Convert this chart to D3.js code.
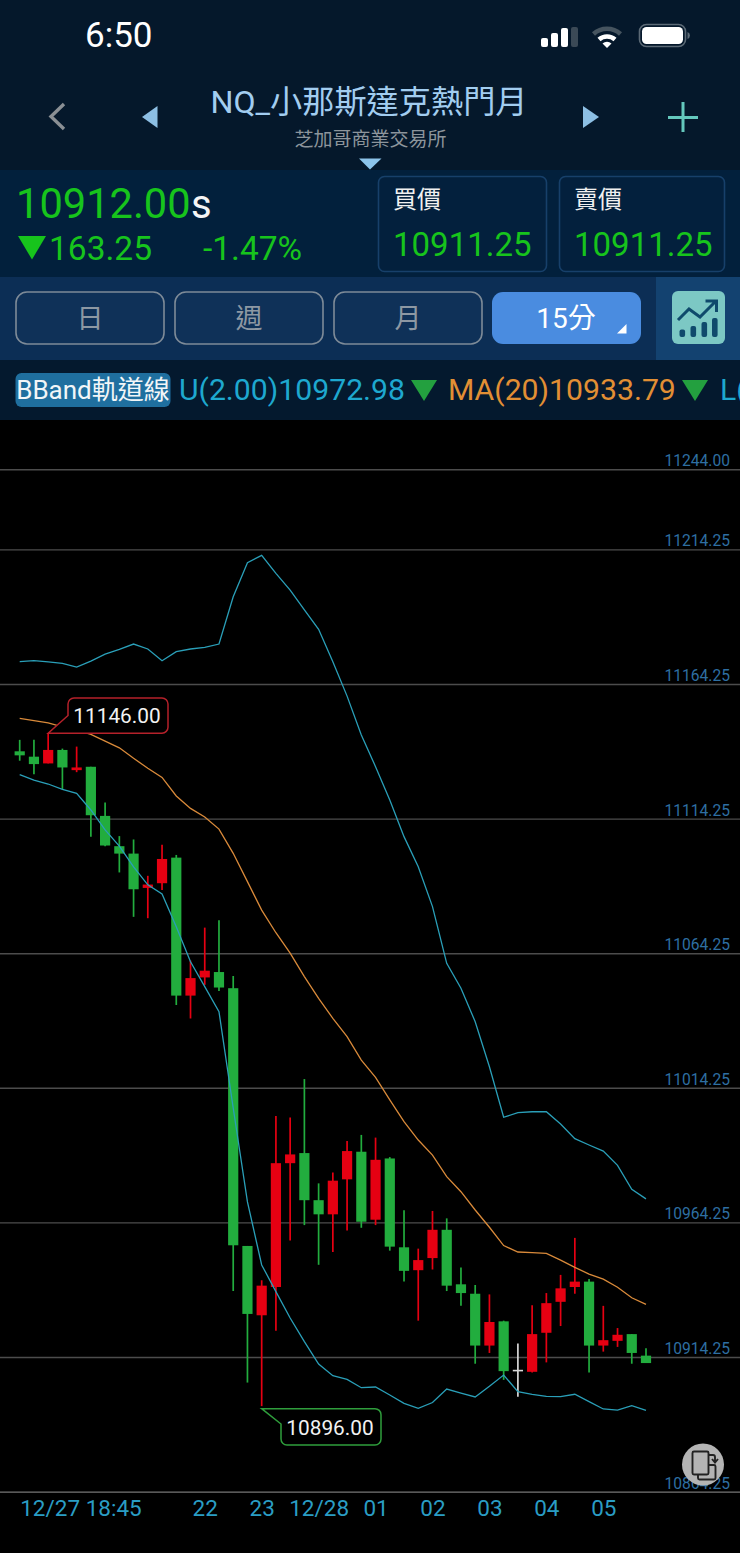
<!DOCTYPE html>
<html>
<head>
<meta charset="utf-8">
<title>NQ</title>
<script src="https://d3js.org/d3.v7.min.js"></script>
<style>
  html, body { margin: 0; padding: 0; background: #000; }
  svg { display: block; }
  text { font-family: Roboto, "Noto Sans CJK TC", sans-serif; }
</style>
</head>
<body>
<div id="chart"></div>
<script>

// Candles
var opens = [11139.25, 11137.25, 11134.75, 11139.75, 11132.25, 11133.5, 11115.25, 11104, 11101.25, 11088.5,
    11090.25, 11099.75, 11048.5, 11055.25, 11057.25, 11051.25, 10955.5, 10929.75, 10940.25, 10986.25,
    10990, 10972.5, 10967.25, 10980.25, 10990.5, 10965.25, 10988, 10955, 10946.5, 10951,
    10961.5, 10941.25, 10937.75, 10918.5, 10927.5, 10909.5, 10908.75, 10923.25, 10934.75, 10940.25,
    10942.25, 10918.5, 10920.25, 10922.75, 10914.75];
var highs = [11143.5, 11143.5, 11146, 11140.25, 11141, 11133.5, 11120.25, 11107.75, 11106.5, 11093,
    11104.5, 11100.75, 11061.5, 11073.75, 11076.5, 11055.75, 10955.5, 10942.75, 11003.75, 11003.25,
    11017.5, 10978.75, 10982.75, 10994.5, 10996.75, 10995.75, 10988.5, 10968.75, 10954.5, 10968.5,
    10965.75, 10947.5, 10941, 10937.5, 10927.75, 10919.25, 10933.5, 10938, 10944.75, 10958.5,
    10943.25, 10933.25, 10925, 10922.75, 10917.5];
var lows = [11135.75, 11130.75, 11134.75, 11125.25, 11131.5, 11107.5, 11104, 11094.25, 11077.75, 11077.25,
    11087.75, 11045, 11040, 11052.5, 11050.25, 10938.75, 10904.75, 10896, 10924, 10957.5,
    10963.25, 10948.5, 10953.25, 10961.25, 10962.25, 10963.25, 10953.75, 10942.25, 10927.75, 10946.75,
    10938.75, 10933.25, 10911.75, 10915.75, 10905.75, 10899.5, 10908.5, 10912.25, 10925.75, 10937.75,
    10908.5, 10916.25, 10918, 10911.75, 10912];
var closes = [11137.75, 11134.5, 11139.75, 11133.25, 11133.25, 11115.5, 11104.25, 11101.25, 11088, 11089.75,
    11099.25, 11048.5, 11055, 11057.75, 11051.5, 10955.75, 10930.25, 10940.75, 10986.25, 10989.5,
    10972.5, 10967.25, 10979.75, 10990.75, 10964.5, 10987.5, 10955.25, 10946.25, 10950.25, 10961.5,
    10940.75, 10938, 10918.5, 10927.25, 10909, 10909.5, 10922.75, 10934.25, 10939.75, 10942.25,
    10918.5, 10920.5, 10922.5, 10915.75, 10912];

// Bollinger band lines
var bandUpper = [11172.55, 11172.9, 11172.45, 11171.95, 11170.55, 11172.75, 11175.35, 11177.15, 11179.1, 11177.25,
    11172.9, 11176.25, 11177.25, 11177.85, 11179.1, 11196.65, 11209.3, 11212.05, 11205.35, 11199.15,
    11191.75, 11184.55, 11172.55, 11159.75, 11145.3, 11133.55, 11121.15, 11107.55, 11096.35, 11081.55,
    11060.5, 11051.25, 11038.8, 11022.05, 11003.3, 11005, 11005.35, 11005.35, 11000.8, 10995.35,
    10993, 10990.75, 10985.45, 10976.55, 10972.98];
var bandMiddle = [11151.5, 11150.65, 11149.85, 11148.35, 11147.15, 11145.55, 11143.05, 11140.55, 11136.65, 11132.95,
    11129.55, 11122.65, 11118.05, 11114.85, 11110.35, 11101.35, 11090.85, 11080.25, 11071.85, 11064.25,
    11055.55, 11047.5, 11040.05, 11033.25, 11024.55, 11018.15, 11009.75, 11001.65, 10994.85, 10989.25,
    10981.25, 10975.65, 10968.85, 10962.45, 10955.65, 10953.25, 10953, 10952.75, 10950.25, 10947.55,
    10945.05, 10943.15, 10940.15, 10936.25, 10933.79];
var bandLower = [11130.55, 11128.55, 11127.1, 11125.15, 11123.65, 11117.45, 11110.05, 11104.05, 11096.35, 11089.65,
    11086.25, 11074.05, 11061.05, 11051.85, 11042.55, 11006.75, 10971.85, 10948.45, 10938.55, 10928.75,
    10919.95, 10911.65, 10907.3, 10905.95, 10902.85, 10903.1, 10900.15, 10897.05, 10895.2, 10897.35,
    10902.35, 10900.85, 10899.4, 10903.35, 10907.55, 10901.35, 10900.4, 10899.65, 10899.5, 10900.4,
    10897.65, 10894.95, 10894.55, 10896.15, 10894.45];

// Axis ticks
var priceTicks = [11244, 11214.25, 11164.25, 11114.25, 11064.25, 11014.25, 10964.25, 10914.25, 10864.25];
var timeTicks = [0, 13, 17, 21, 25, 29, 33, 37, 41];
var timeLabels = ["12/27 18:45", "22", "23", "12/28", "01", "02", "03", "04", "05"];

// Extremes shown in the callouts
var highIndex = 2, highValue = 11146;
var lowIndex = 17, lowValue = 10896;

var width = 740, height = 1553;

var cyan = "#2a9fb8", orange = "#d98a3a", red = "#e60012", green = "#22ad3e";
var quoteGreen = "#17c41c", labelBlue = "#2a9dc4";

var svg = d3.select("#chart")
    .append("svg")
      .attr("width", width)
      .attr("height", height);

var x = d3.scaleLinear()
    .domain([0, opens.length - 1])
    .range([19.7, 646]);

var y = d3.scaleLinear()
    .domain([10914.25, 11214.25])
    .range([1357, 549.4]);

drawHeader();
drawChart();

function drawChart() {

    svg.append("rect")
        .attr("y", 420)
        .attr("width", width)
        .attr("height", height - 420)
        .attr("fill", "#000");

    // Price grid, labels sit above their line
    var yAxis = d3.axisRight(y)
        .tickValues(priceTicks)
        .tickSize(-width)
        .tickFormat(d3.format(".2f"));

    var gy = svg.append("g")
        .attr("transform", "translate(" + width + ",0)")
        .call(yAxis);

    gy.select(".domain").remove();
    gy.selectAll("line")
        .attr("stroke", "#4c4c4c")
        .attr("stroke-width", 1.4);
    gy.selectAll("line")
        .filter(function(d) { return d == 10864.25; })
        .attr("stroke", "#777");
    gy.selectAll("text")
        .attr("x", -75.5)
        .attr("dy", "-3.5px")
        .attr("text-anchor", "start")
        .attr("fill", "#2e6fa2")
        .style("font-size", "15.6px")
        .style("font-family", "Roboto");

    // Time labels
    var xAxis = d3.axisBottom(x)
        .tickValues(timeTicks)
        .tickSize(0)
        .tickFormat(function(d, i) { return timeLabels[i]; });

    var gx = svg.append("g")
        .attr("transform", "translate(0,1492)")
        .call(xAxis);

    gx.select(".domain").remove();
    gx.selectAll("text")
        .attr("y", 16)
        .attr("dy", "0.35em")
        .attr("fill", labelBlue)
        .style("font-size", "22.5px")
        .style("font-family", "Roboto");
    gx.selectAll("text")
        .filter(function(d) { return d == 0; })
        .attr("text-anchor", "start");

    // Candles
    var candles = svg.append("g").selectAll("g")
        .data(opens)
        .enter().append("g")
          .attr("fill", candleColor)
          .attr("stroke", candleColor);

    candles.append("line")
        .attr("x1", function(d, i) { return x(i); })
        .attr("x2", function(d, i) { return x(i); })
        .attr("y1", function(d, i) { return y(highs[i]); })
        .attr("y2", function(d, i) { return y(lows[i]); })
        .attr("stroke-width", 1.7);

    candles.append("rect")
        .attr("x", function(d, i) { return x(i) - 5.1; })
        .attr("width", 10.2)
        .attr("y", function(d, i) { return y(Math.max(opens[i], closes[i])); })
        .attr("height", function(d, i) { return Math.max(Math.abs(y(opens[i]) - y(closes[i])), 1.6); })
        .attr("stroke", "none");

    // Band lines
    var bandLine = d3.line()
        .x(function(d, i) { return x(i); })
        .y(function(d) { return y(d); });

    [[bandUpper, cyan], [bandMiddle, orange], [bandLower, cyan]].forEach(function(band) {
        svg.append("path")
            .attr("d", bandLine(band[0]))
            .attr("fill", "none")
            .attr("stroke", band[1])
            .attr("stroke-width", 1.3);
    });

    addCallouts();

    // Rotate button
    svg.append("circle")
        .attr("cx", 703)
        .attr("cy", 1464.5)
        .attr("r", 21)
        .attr("fill", "#b4b4b4");
    svg.append("path")
        .attr("d", "M694 1451.5h13a1.5 1.5 0 0 1 1.5 1.5v20a1.5 1.5 0 0 1 -1.5 1.5h-13a1.5 1.5 0 0 1 -1.5 -1.5v-20a1.5 1.5 0 0 1 1.5 -1.5z"
            + "M698 1474.5v3.5a1.5 1.5 0 0 0 1.5 1.5h14.5a1.5 1.5 0 0 0 1.5 -1.5v-11.5a1.5 1.5 0 0 0 -1.5 -1.5h-5.5"
            + "M709 1455h4a2 2 0 0 1 2 2v4M712 1459l3 3.5l3 -3.5")
        .attr("fill", "none")
        .attr("stroke", "#222")
        .attr("stroke-width", 1.9);
}

function candleColor(d, i) {
    if (closes[i] > opens[i]) return red;
    if (closes[i] < opens[i]) return green;
    return "#d8d8d8";
}

function addCallouts() {

    // High value box, tail runs along the bottom edge
    var hx = x(highIndex), hy = y(highValue);
    svg.append("path")
        .attr("d", "M" + hx + " " + hy + "H162a6 6 0 0 0 6 -6V704a6 6 0 0 0 -6 -6H74a6 6 0 0 0 -6 6V715.5Z")
        .attr("fill", "#000")
        .attr("stroke", "#b5212a")
        .attr("stroke-width", 1.5);
    svg.append("text")
        .attr("x", 117)
        .attr("y", 716)
        .attr("dy", "0.36em")
        .attr("text-anchor", "middle")
        .attr("fill", "#f2f2f2")
        .style("font-size", "20.8px")
        .text(d3.format(".2f")(highValue));

    // Low value box, tail runs along the top edge
    var lx = x(lowIndex), ly = y(lowValue) + 2.5;
    svg.append("path")
        .attr("d", "M" + lx + " " + ly + "H375a6 6 0 0 1 6 6V1439a6 6 0 0 1 -6 6H287a6 6 0 0 1 -6 -6V1424Z")
        .attr("fill", "#000")
        .attr("stroke", "#2f9e3c")
        .attr("stroke-width", 1.5);
    svg.append("text")
        .attr("x", 330)
        .attr("y", 1427.5)
        .attr("dy", "0.36em")
        .attr("text-anchor", "middle")
        .attr("fill", "#f2f2f2")
        .style("font-size", "20.8px")
        .text(d3.format(".2f")(lowValue));
}

function addText(str, px, py, size, color, anchor, weight) {
    return svg.append("text")
        .attr("x", px)
        .attr("y", py)
        .attr("fill", color)
        .attr("text-anchor", anchor || "start")
        .style("font-size", size + "px")
        .style("font-weight", weight || 300)
        .text(str);
}

function addRect(px, py, w, h, fill, stroke, r) {
    return svg.append("rect")
        .attr("x", px)
        .attr("y", py)
        .attr("width", w)
        .attr("height", h)
        .attr("rx", r || 0)
        .attr("fill", fill)
        .attr("stroke", stroke || "none")
        .attr("stroke-width", 1.6);
}

function addShape(d, fill) {
    return svg.append("path").attr("d", d).attr("fill", fill);
}

function drawHeader() {

    // Background bands
    addRect(0, 0, width, 170, "#05182b");
    addRect(0, 170, width, 107, "#02203c");
    addRect(0, 277, width, 83, "#0c2e55");
    addRect(656, 277, 84, 83, "#134270");
    addRect(0, 360, width, 60, "#04192e");

    // Status bar
    addText("6:50", 85, 47, 35, "#fff", "start", 400);
    [[541, 38, 9], [551, 33, 14], [561, 28, 19], [571, 27, 20]].forEach(function(b, i) {
        addRect(b[0], b[1], 7, b[2], i == 3 ? "#3b4956" : "#fff", null, 2);
    });
    svg.append("path")
        .attr("d", "M593.5 34a20 20 0 0 1 27 0")
        .attr("fill", "none").attr("stroke", "#46545f").attr("stroke-width", 4.5);
    svg.append("path")
        .attr("d", "M599 39.5a12 12 0 0 1 16 0")
        .attr("fill", "none").attr("stroke", "#fff").attr("stroke-width", 4.5);
    addShape("M602.5 43.5a7 7 0 0 1 9 0L607 48Z", "#fff");
    addRect(639.5, 24.5, 46, 22, "none", "#5c6a76", 7);
    addRect(642, 27, 41, 17, "#fff", null, 4.5);
    addShape("M687.5 32v7a4 4 0 0 0 2.5 -3.5a4 4 0 0 0 -2.5 -3.5z", "#5c6a76");

    // Title row
    svg.append("path")
        .attr("d", "M64 104L51 116.5L64 129")
        .attr("fill", "none").attr("stroke", "#8a8f94").attr("stroke-width", 3.4);
    addShape("M157.5 106V128L142 117Z", "#8dbfe4");
    addShape("M583 106V128L599 117Z", "#8dbfe4");
    svg.append("path")
        .attr("d", "M668 117.5H698M683 102V132")
        .attr("fill", "none").attr("stroke", "#64c8bd").attr("stroke-width", 3);
    addText("NQ_小那斯達克熱門月", 369, 113, 32.2, "#a2cdf0", "middle", 400);
    addText("芝加哥商業交易所", 370.5, 146, 19, "#8d959c", "middle", 400);
    addShape("M359 158.5H381.5L370 169.5Z", "#8dc4ea");

    // Quote
    addText("10912.00", 16, 218, 41.6, quoteGreen, "start", 400);
    addText("s", 191, 218, 40, "#f5f5f5", "start", 400);
    addShape("M18 236H46L32 259.5Z", quoteGreen);
    addText("163.25", 49, 259.5, 33.5, quoteGreen, "start", 400);
    addText("-1.47%", 203, 259.5, 33.5, quoteGreen, "start", 400);

    addRect(378.5, 176.5, 168, 95, "#03203d", "#17406a", 6);
    addRect(559.5, 176.5, 165, 95, "#03203d", "#17406a", 6);
    addText("買價", 393, 208, 24, "#f0f0f0", "start", 400);
    addText("賣價", 574, 208, 24, "#f0f0f0", "start", 400);
    addText("10911.25", 393, 255.5, 33, quoteGreen, "start", 400);
    addText("10911.25", 574, 255.5, 33, quoteGreen, "start", 400);

    // Period buttons
    var periods = [["日", 16], ["週", 175], ["月", 334]];
    periods.forEach(function(p) {
        addRect(p[1], 292, 148, 52, "#0f3158", "#7e8b98", 11);
        addText(p[0], p[1] + 74, 328, 27, "#8d98a3", "middle", 400);
    });
    addRect(492, 292, 149, 52, "#4a8ce0", null, 11);
    addText("15分", 566, 328, 28, "#fff", "middle", 400);
    addShape("M626.5 324V333.5H617Z", "#fff");

    // Indicator icon
    addRect(672, 291, 53, 53, "#7cc8c4", null, 6);
    [[679.5, 329.5], [690.5, 326], [701.5, 322], [712, 318]].forEach(function(b) {
        addRect(b[0], b[1], 5.6, 337 - b[1], "#0f4a6c", null, 2);
    });
    svg.append("path")
        .attr("d", "M678 320L689 309L700 317L715 302M705.5 301H716.5V312")
        .attr("fill", "none").attr("stroke", "#0f4a6c").attr("stroke-width", 3);

    // Indicator legend
    addRect(15.5, 373, 155, 34, "#1f6f9f", null, 6);
    addText("BBand軌道線", 93, 399, 26, "#f2f6f8", "middle", 400);
    addText("U(2.00)10972.98", 179, 400, 30.2, "#1ea8cf", "start", 400);
    addShape("M411 380H437L424 401Z", "#23a03f");
    addText("MA(20)10933.79", 448, 400, 30.2, "#e28f34", "start", 400);
    addShape("M682 380H708L695 401Z", "#23a03f");
    addText("L(", 720, 400, 30.2, "#1ea8cf", "start", 400);
}

</script>
</body>
</html>
